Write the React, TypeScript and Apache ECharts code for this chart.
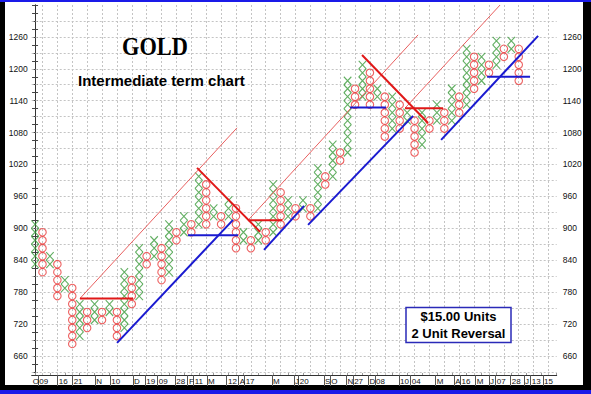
import React, { useEffect, useRef } from "react";
import * as echarts from "echarts";

// Point & figure columns: lowest and highest box (lower bound of each $15 box)
const boxSize = 15;
const firstColumn = "X";
const colLow = [825, 810, 825, 765, 780, 675, 690, 705, 720, 720, 735, 690, 705, 750, 765, 825, 840, 795, 810, 870, 885, 885, 900, 900, 915, 900, 915, 855, 870, 855, 870, 870, 885, 900, 915, 915, 930, 915, 930, 975, 990, 1020, 1035, 1125, 1140, 1125, 1140, 1065, 1080, 1080, 1095, 1035, 1050, 1080, 1095, 1080, 1095, 1110, 1125, 1155, 1170, 1185, 1200, 1215, 1230, 1170];
const colHigh = [900, 885, 840, 825, 795, 780, 750, 735, 750, 735, 750, 735, 810, 795, 855, 840, 870, 855, 900, 885, 915, 900, 990, 975, 930, 915, 945, 930, 885, 870, 900, 885, 975, 960, 945, 930, 945, 930, 1005, 990, 1050, 1035, 1170, 1155, 1200, 1185, 1155, 1140, 1140, 1125, 1110, 1095, 1110, 1095, 1125, 1110, 1155, 1140, 1230, 1215, 1215, 1200, 1245, 1230, 1245, 1230];

// Trend lines: [startColumn, startPrice, endColumn, endPrice]
const redTrend = [
  [6.04, 768, 13.17, 768],
  [21.77, 1013.6, 30.24, 893.3],
  [28.62, 915, 33.19, 915],
  [43.94, 1226, 52.82, 1098],
  [49.72, 1126, 54.83, 1126],
];
const redChannel = [
  [6.04, 768, 27.14, 1088.9],
  [28.62, 915, 51.47, 1263.8],
  [49.72, 1126, 62.49, 1320],
];
const blueTrend = [
  [11.02, 684.5, 26.61, 915.8],
  [20.56, 887, 27.28, 887],
  [30.77, 859.4, 36.15, 942.2],
  [36.69, 906.4, 50.8, 1111.4],
  [42.33, 1127, 47.17, 1127],
  [54.57, 1066.3, 67.6, 1261.9],
  [60.75, 1185, 66.52, 1185],
];

// Date labels along the bottom and the column where each one sits
const xLabels = ["O", "09", "16", "21", "N", "10", "D", "19", "09", "28", "F", "11", "M", "12", "A", "17", "M", "J", "20", "S", "O", "N", "27", "D", "08", "10", "04", "M", "A", "16", "M", "J", "07", "28", "J", "13", "15"];
const xLabelCols = [-0.3, 0.58, 3.18, 5.19, 8.23, 10.25, 13.3, 14.95, 16.62, 18.99, 20.69, 21.45, 23.25, 25.93, 27.51, 28.3, 31.98, 34.94, 35.58, 38.97, 39.8, 42.0, 42.88, 44.95, 45.83, 49.05, 50.62, 53.99, 56.48, 57.3, 59.36, 61.15, 62.05, 64.07, 65.85, 66.75, 68.41];

const yLabels = [660, 720, 780, 840, 900, 960, 1020, 1080, 1140, 1200, 1260];

const X_MIN = -0.45;
const X_MAX = 70.1;
const Y_MIN = 624;
const Y_MAX = 1320;

const FONT = 'Arial, "Liberation Sans", sans-serif';

export default function App() {
  const ref = useRef<HTMLDivElement>(null);

  useEffect(() => {
    if (!ref.current) return;
    const chart = echarts.init(ref.current, null, { renderer: "svg" });

    const xPts: number[][] = [];
    const oPts: number[][] = [];
    colLow.forEach((lo, i) => {
      const isX = (i % 2 === 0) === (firstColumn === "X");
      for (let p = lo; p <= colHigh[i]; p += boxSize) {
        (isX ? xPts : oPts).push([i, p + boxSize / 2]);
      }
    });

    const yTicks: number[] = [];
    for (let p = 630; p <= Y_MAX; p += boxSize) yTicks.push(p);
    const colTicks: number[] = [];
    for (let c = 0; c <= 70; c++) colTicks.push(c);

    const gridLines: any[] = [];
    for (let c = 1; c < X_MAX; c += 2) gridLines.push({ xAxis: c });
    for (let p = 630; p < Y_MAX; p += 30) gridLines.push({ yAxis: p });

    const lineSeries = (arr: number[][], color: string, width: number, z: number) =>
      arr.map((s) => ({
        type: "line",
        data: [
          [s[0], s[1]],
          [s[2], s[3]],
        ],
        showSymbol: false,
        symbol: "none",
        silent: true,
        z,
        lineStyle: { color, width },
      }));

    const yAxisBase = (position: "left" | "right", margin: number) => ({
      type: "value",
      min: Y_MIN,
      max: Y_MAX,
      position,
      axisLine: { show: true, lineStyle: { color: "#333", width: 1 } },
      axisTick: { show: true, customValues: yTicks, length: 3, lineStyle: { color: "#444" } },
      axisLabel: {
        show: true,
        customValues: yLabels,
        formatter: (v: number) => String(v),
        margin,
        fontSize: 8.5,
        fontFamily: FONT,
        color: "#111",
      },
      splitLine: { show: false },
    });

    const option: any = {
      animation: false,
      backgroundColor: "transparent",
      grid: { left: 31.7, right: 34.3, top: 5, bottom: 19 },
      xAxis: [
        {
          type: "value",
          min: X_MIN,
          max: X_MAX,
          position: "bottom",
          axisLine: { show: true, lineStyle: { color: "#333", width: 1 } },
          axisTick: {
            show: true,
            customValues: xLabelCols.map((c) => c - 0.17),
            length: 11,
            lineStyle: { color: "#555" },
          },
          axisLabel: {
            show: true,
            customValues: xLabelCols,
            showMinLabel: true,
            showMaxLabel: true,
            hideOverlap: false,
            formatter: (v: number) => {
              const i = xLabelCols.findIndex((c) => Math.abs(c - v) < 1e-6);
              return i >= 0 ? xLabels[i] : "";
            },
            align: "left",
            margin: 2,
            fontSize: 8,
            fontFamily: FONT,
            color: "#111",
          },
          splitLine: { show: false },
        },
        {
          type: "value",
          min: X_MIN,
          max: X_MAX,
          position: "bottom",
          axisLine: { show: false },
          axisTick: { show: true, inside: true, length: 2, customValues: colTicks, lineStyle: { color: "#999" } },
          axisLabel: { show: false },
          splitLine: { show: false },
        },
      ],
      yAxis: [yAxisBase("left", 4), yAxisBase("right", 6)],
      series: [
        {
          type: "scatter",
          data: [[0, 630]],
          symbolSize: 0,
          silent: true,
          z: 0,
          markLine: {
            silent: true,
            z: 1,
            symbol: ["none", "none"],
            label: { show: false },
            lineStyle: { color: "#c4c4c4", type: [2, 2], width: 1 },
            data: gridLines,
          },
        },
        {
          type: "scatter",
          data: xPts,
          symbol: "path://M0,0L10,10M10,0L0,10",
          symbolSize: [7.5, 8],
          silent: true,
          z: 3,
          itemStyle: { color: "rgba(0,0,0,0)", borderColor: "#3a9a3a", borderWidth: 1.1 },
        },
        {
          type: "scatter",
          data: oPts,
          symbol: "circle",
          symbolSize: 7.5,
          silent: true,
          z: 3,
          itemStyle: { color: "rgba(0,0,0,0)", borderColor: "#e83a3a", borderWidth: 1.1 },
        },
        ...lineSeries(redChannel, "#e86060", 1, 4),
        ...lineSeries(redTrend, "#e01818", 2, 5),
        ...lineSeries(blueTrend, "#1a1ad0", 2, 5),
      ],
      graphic: [
        {
          type: "text",
          x: 155,
          y: 46,
          scaleX: 0.86,
          z: 20,
          style: {
            text: "GOLD",
            font: 'bold 26px "Liberation Serif", "Times New Roman", serif',
            fill: "#000",
            align: "center",
            verticalAlign: "middle",
          },
        },
        {
          type: "text",
          x: 78,
          y: 80.5,
          z: 20,
          style: {
            text: "Intermediate term chart",
            font: `bold 15px ${FONT}`,
            fill: "#000",
            align: "left",
            verticalAlign: "middle",
          },
        },
        {
          type: "rect",
          z: 20,
          shape: { x: 406, y: 307.5, width: 105, height: 35 },
          style: { fill: "#fff", stroke: "#2a2ab8", lineWidth: 1.5 },
        },
        {
          type: "text",
          x: 458.5,
          y: 316.8,
          z: 21,
          style: {
            text: "$15.00 Units",
            font: `bold 13px ${FONT}`,
            fill: "#000",
            align: "center",
            verticalAlign: "middle",
          },
        },
        {
          type: "text",
          x: 458.5,
          y: 333.4,
          z: 21,
          style: {
            text: "2 Unit Reversal",
            font: `bold 13px ${FONT}`,
            fill: "#000",
            align: "center",
            verticalAlign: "middle",
          },
        },
      ],
    };

    chart.setOption(option);
    return () => chart.dispose();
  }, []);

  return (
    <div
      style={{
        position: "fixed",
        left: 0,
        top: 0,
        width: 591,
        height: 394,
        background: "#000",
        overflow: "hidden",
      }}
    >
      <div style={{ position: "absolute", left: 0, top: 0, width: 591, height: 2, background: "#1a1ae8" }} />
      <div style={{ position: "absolute", left: 0, top: 390, width: 591, height: 4, background: "#1a1ae8" }} />
      <div style={{ position: "absolute", left: 5, top: 2, width: 578, height: 383, background: "#fff" }} />
      <div ref={ref} style={{ position: "absolute", left: 0, top: 0, width: 591, height: 394 }} />
    </div>
  );
}
